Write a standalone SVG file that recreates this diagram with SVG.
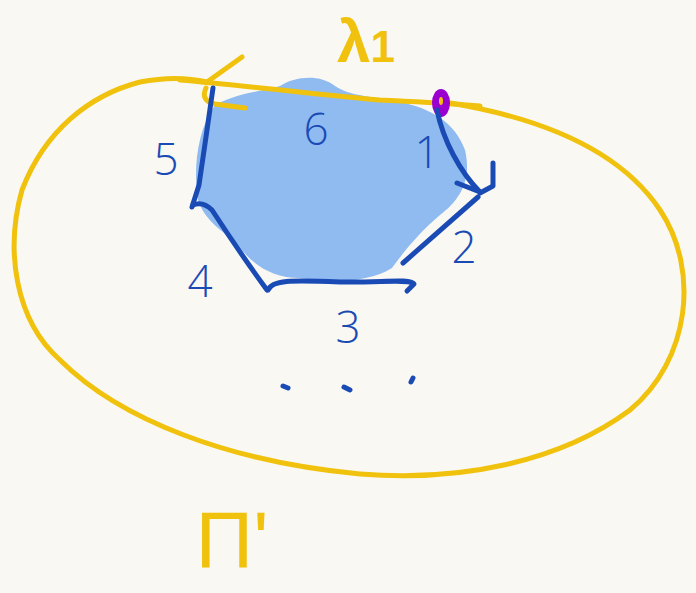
<svg xmlns="http://www.w3.org/2000/svg" width="696" height="593" viewBox="0 0 696 593">
<style>
.y{fill:none;stroke:#f0c20e;stroke-width:5;stroke-linecap:round;stroke-linejoin:round}
.b{fill:none;stroke:#1a4bb5;stroke-width:5;stroke-linecap:round;stroke-linejoin:round}
.num{font-family:"Open Sans","Liberation Sans",sans-serif;font-weight:300;fill:#1a4bb5;font-size:44px;text-anchor:middle}
.ylab{font-family:"Liberation Sans",sans-serif;fill:#f0c20e;text-anchor:middle}
</style>
<rect width="696" height="593" fill="#faf8f3"/>
<g id="region">
<path d="M215,105 C240,92 260,92 280,86 C295,76 320,74 335,86 C350,96 370,96 400,102 C430,108 455,122 465,150 C472,180 460,200 440,215 C420,232 405,250 392,268 C370,282 330,284 300,278 C270,278 250,262 238,245 C225,232 205,222 198,200 C193,170 197,130 215,105 Z" fill="#8fbbf0"/>
</g>
<g id="loop">
<path class="y" d="M207,82 C190,78 170,76 140,82 C90,95 45,130 22,190 C5,250 15,320 60,360 C120,420 230,462 360,474 C460,482 560,462 630,410 C690,360 700,270 660,210 C620,150 540,118 450,103"/>
<path class="y" d="M180,80 C250,86 330,96 380,100 C420,102 450,103 480,106"/>
<path class="y" d="M242,57 L207,82 M206,88 C202,96 205,102 215,104 L245,108"/>
</g>
<g id="point">
<ellipse cx="441" cy="103" rx="9" ry="14" fill="#9a00cf"/>
<ellipse cx="441" cy="101" rx="2" ry="4" fill="#f0c20e"/>
</g>
<g id="connectors">
<path class="b" d="M437,110 C443,140 460,172 480,192"/>
<path class="b" d="M457,183 L480,192 M493,163 L493,186 L480,193"/>
<path class="b" d="M478,197 L403,263"/>
<path class="b" d="M268,290 C272,280 290,280 340,282 C380,283 410,278 414,284 L407,291"/>
<path class="b" d="M193,205 C200,202 207,205 212,210 C225,230 245,260 267,290"/>
<path class="b" d="M213,88 L207,130 L199,185 L192,207"/>
<path class="b" d="M283,386 L288,388 M344,387 L350,390 M411,382 L413,378"/>
</g>
<g id="labels">
<text class="num" x="427" y="168">1</text>
<text class="num" x="464" y="263">2</text>
<text class="num" x="348" y="343">3</text>
<text class="num" x="200" y="297">4</text>
<text class="num" x="166" y="175">5</text>
<text class="num" x="316" y="145">6</text>
<text class="ylab" x="366" y="62" font-size="60" font-weight="bold">λ<tspan font-size="44">1</tspan></text>
<text class="ylab" x="232" y="568" font-size="80">Π'</text>
</g>
</svg>
